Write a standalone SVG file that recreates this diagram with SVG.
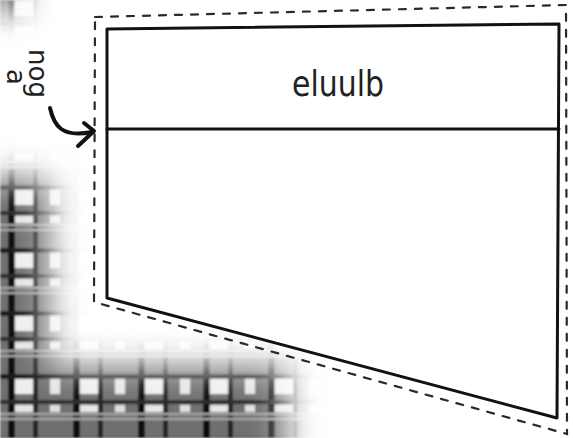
<svg xmlns="http://www.w3.org/2000/svg" width="573" height="438" viewBox="0 0 573 438">
  <defs>
    <style>
      .solid { fill: none; stroke: #111; stroke-width: 3; stroke-linejoin: round; stroke-linecap: round; }
      .dash { fill: none; stroke: #2a2a2a; stroke-width: 2.2; stroke-dasharray: 7 9; stroke-linecap: round; }
      .hand { font-family: "DejaVu Sans", "Liberation Sans", sans-serif; fill: #222; }
      .arrow { fill: none; stroke: #111; stroke-width: 4; stroke-linecap: round; stroke-linejoin: round; }
    </style>
    <pattern id="plaid" patternUnits="userSpaceOnUse" x="0" y="-9" width="65" height="63">
      <rect width="65" height="63" fill="#707070"/>
      <rect x="8" y="0" width="7" height="63" fill="#111"/>
      <rect x="33" y="0" width="5" height="63" fill="#222"/>
      <rect x="0" y="5" width="65" height="5" fill="#1a1a1a"/>
      <rect x="0" y="31" width="65" height="4" fill="#2a2a2a"/>
      <rect x="0" y="44" width="65" height="2" fill="#aaa"/>
      <rect x="0" y="49" width="65" height="2" fill="#aaa"/>
      <rect x="15" y="10" width="18" height="15" fill="#eeeeee"/>
      <rect x="50" y="10" width="10" height="15" fill="#e6e6e6"/>
      <rect x="15" y="36" width="18" height="7" fill="#e6e6e6"/>
      <rect x="50" y="36" width="10" height="7" fill="#e0e0e0"/>
    </pattern>
    <filter id="soft" x="-50%" y="-50%" width="200%" height="200%">
      <feGaussianBlur stdDeviation="17"/>
    </filter>
    <filter id="fuzz">
      <feGaussianBlur stdDeviation="1.2"/>
    </filter>
    <mask id="fade" maskUnits="userSpaceOnUse" x="0" y="0" width="573" height="438">
      <g filter="url(#soft)" fill="#fff">
        <rect x="-60" y="180" width="108" height="330"/>
        <rect x="-60" y="368" width="345" height="130"/>
        <rect x="-40" y="-40" width="62" height="48"/>
      </g>
    </mask>
  </defs>

  <rect width="573" height="438" fill="#fff"/>
  <g id="background-texture" mask="url(#fade)">
    <rect width="573" height="438" fill="url(#plaid)" filter="url(#fuzz)"/>
  </g>

  <g id="outline">
    <path class="dash" d="M95,17 L566,5 L567,434 L94,302 Z"/>
  </g>

  <g id="node-table">
    <path class="solid" d="M107,29 L559,24 L557,418 L107,298 Z" style="fill:#fff"/>
    <path class="solid" d="M107,129 L559,129"/>
    <text class="hand" x="338" y="96" font-size="36" text-anchor="middle" textLength="92" lengthAdjust="spacingAndGlyphs">eluulb</text>
  </g>

  <g id="connectors">
    <path class="arrow" d="M50,108 C54,126 62,138 92,132"/>
    <path class="arrow" d="M84,123 L94,131 L78,146"/>
  </g>

  <g id="side-label">
    <text class="hand" font-size="26" transform="translate(29,49) rotate(90)">nog<tspan x="20" dy="22">a</tspan></text>
  </g>
</svg>
